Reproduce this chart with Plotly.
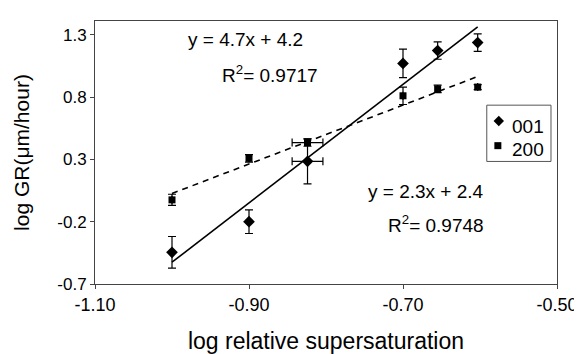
import numpy as np
import plotly.graph_objects as go

# Data
x_001 = [-1.00, -0.90, -0.824, -0.70, -0.655, -0.603]
y_001 = [-0.446, -0.20, 0.284, 1.07, 1.173, 1.237]
ey_001 = [0.127, 0.095, 0.18, 0.115, 0.07, 0.07]
ex_001 = [0, 0, 0.02, 0, 0, 0]

x_200 = [-1.00, -0.90, -0.824, -0.70, -0.655, -0.603]
y_200 = [-0.025, 0.308, 0.435, 0.81, 0.865, 0.88]
ey_200 = [0.045, 0.03, 0.03, 0.07, 0.03, 0.02]
ex_200 = [0, 0, 0.02, 0, 0, 0]

series_names = ["001", "200"]

x_ticks = [-1.10, -0.90, -0.70, -0.50]
x_ticktext = ["-1.10", "-0.90", "-0.70", "-0.50"]
y_ticks = [-0.7, -0.2, 0.3, 0.8, 1.3]
y_ticktext = ["-0.7", "-0.2", "0.3", "0.8", "1.3"]

FONT = "Liberation Sans, Arial, sans-serif"

# linear trendlines (least squares fit of the data)
s1, b1 = np.polyfit(x_001, y_001, 1)
s2, b2 = np.polyfit(x_200, y_200, 1)
tx = [min(x_001), max(x_001)]

fig = go.Figure()
fig.add_trace(go.Scatter(x=tx, y=[s1 * v + b1 for v in tx], mode="lines",
                         line=dict(color="black", width=1.6), showlegend=False, hoverinfo="skip"))
fig.add_trace(go.Scatter(x=tx, y=[s2 * v + b2 for v in tx], mode="lines",
                         line=dict(color="black", width=1.6, dash="6px,5px"), showlegend=False, hoverinfo="skip"))

fig.add_trace(go.Scatter(
    x=x_001, y=y_001, mode="markers", name=series_names[0], showlegend=False,
    marker=dict(symbol="diamond", size=9, color="black"),
    error_y=dict(type="data", array=ey_001, color="black", thickness=1.2, width=4),
    error_x=dict(type="data", array=ex_001, color="black", thickness=1.2, width=4),
))
fig.add_trace(go.Scatter(
    x=x_200, y=y_200, mode="markers", name=series_names[1], showlegend=False,
    marker=dict(symbol="square", size=7, color="black"),
    error_y=dict(type="data", array=ey_200, color="black", thickness=1.2, width=4),
    error_x=dict(type="data", array=ex_200, color="black", thickness=1.2, width=4),
))

# custom legend box (compact, like the reference)
leg_x = [0.874, 0.872]
leg_y = [0.620, 0.526]
fig.add_shape(type="rect", xref="paper", yref="paper", x0=0.848, x1=0.987, y0=0.466, y1=0.680,
              line=dict(color="#555", width=1), fillcolor="white", layer="below")
fig.add_trace(go.Scatter(x=[leg_x[0]], y=[leg_y[0]], xaxis="x2", yaxis="y2", mode="markers",
                         marker=dict(symbol="diamond", size=8, color="black"),
                         showlegend=False, hoverinfo="skip"))
fig.add_trace(go.Scatter(x=[leg_x[1]], y=[leg_y[1]], xaxis="x2", yaxis="y2", mode="markers",
                         marker=dict(symbol="square", size=7, color="black"),
                         showlegend=False, hoverinfo="skip"))
for name, yy in zip(series_names, [0.600, 0.510]):
    fig.add_annotation(x=0.899, y=yy, xref="paper", yref="paper", text=name, showarrow=False,
                       xanchor="left", yanchor="middle",
                       font=dict(family=FONT, size=19, color="black"))

ann_font = dict(family=FONT, size=19, color="black")
fig.add_annotation(x=-0.904, y=1.26, xref="x", yref="y", text="y = 4.7x + 4.2",
                   showarrow=False, font=ann_font, xanchor="center")
fig.add_annotation(x=-0.873, y=0.985, xref="x", yref="y", text="R<sup>2</sup>= 0.9717",
                   showarrow=False, font=ann_font, xanchor="center")
fig.add_annotation(x=-0.592, y=0.046, xref="x", yref="y", text="y = 2.3x + 2.4",
                   showarrow=False, font=ann_font, xanchor="right")
fig.add_annotation(x=-0.592, y=-0.216, xref="x", yref="y", text="R<sup>2</sup>= 0.9748",
                   showarrow=False, font=ann_font, xanchor="right")

fig.update_layout(
    width=582, height=354,
    margin=dict(l=87, r=28, t=13, b=75),
    paper_bgcolor="white", plot_bgcolor="white",
    font=dict(family=FONT, size=17, color="black"),
    showlegend=False,
    xaxis=dict(range=[-1.10, -0.50], tickvals=x_ticks, ticktext=x_ticktext,
               showgrid=False, zeroline=False, showline=True, linecolor="#444",
               linewidth=1, mirror=True, ticks="outside", ticklen=4, tickcolor="#444",
               title=dict(text="log relative supersaturation", font=dict(size=23), standoff=19),
               tickfont=dict(size=18)),
    yaxis=dict(range=[-0.70, 1.41], tickvals=y_ticks, ticktext=y_ticktext,
               showgrid=False, zeroline=False, showline=True, linecolor="#444",
               linewidth=1, mirror=True, ticks="outside", ticklen=4, tickcolor="#444",
               title=dict(text="log GR(μm/hour)", font=dict(size=21), standoff=21),
               tickfont=dict(size=17)),
    xaxis2=dict(domain=[0, 1], range=[0, 1], overlaying="x", visible=False, fixedrange=True),
    yaxis2=dict(domain=[0, 1], range=[0, 1], overlaying="y", visible=False, fixedrange=True),
)

fig.write_html("out.html")
